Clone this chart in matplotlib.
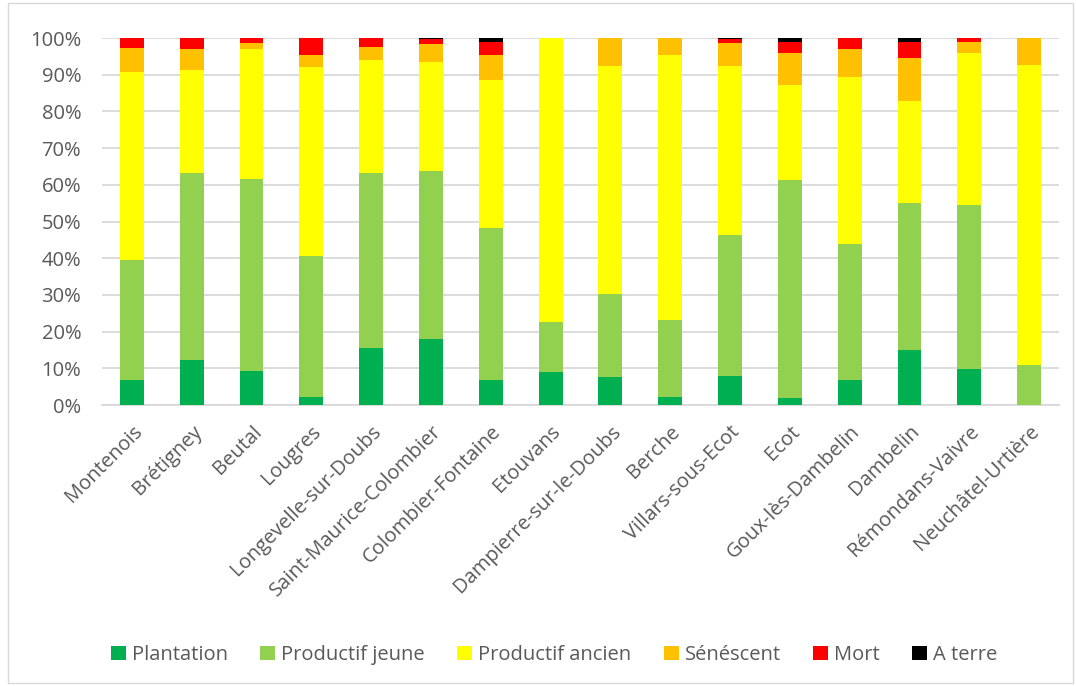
import numpy as np
import matplotlib.pyplot as plt
from matplotlib.patches import Rectangle
from matplotlib.ticker import PercentFormatter

plt.rcParams['font.family'] = ['Open Sans', 'DejaVu Sans']

communes = ["Montenois", "Brétigney", "Beutal", "Lougres", "Longevelle-sur-Doubs",
            "Saint-Maurice-Colombier", "Colombier-Fontaine", "Etouvans",
            "Dampierre-sur-le-Doubs", "Berche", "Villars-sous-Ecot", "Ecot",
            "Goux-lès-Dambelin", "Dambelin", "Rémondans-Vaivre", "Neuchâtel-Urtière"]

plantation = [6.8, 12.3, 9.3, 2.3, 15.6, 18.0, 6.8, 8.9, 7.5, 2.1, 8.0, 2.0, 6.8, 15.1, 9.9, 0.0]
productif_jeune = [32.7, 50.8, 52.3, 38.3, 47.6, 45.8, 41.4, 13.7, 22.7, 21.1, 38.3, 59.3, 37.1, 39.9, 44.6, 11.0]
productif_ancien = [51.2, 28.2, 35.3, 51.5, 30.8, 29.7, 40.4, 77.4, 62.2, 72.3, 46.1, 25.9, 45.5, 27.8, 41.4, 81.7]
senescent = [6.5, 5.7, 1.7, 3.2, 3.5, 4.9, 6.8, 0.0, 7.6, 4.5, 6.2, 8.8, 7.5, 11.7, 2.9, 7.3]
mort = [2.8, 3.0, 1.4, 4.7, 2.5, 1.3, 3.5, 0.0, 0.0, 0.0, 1.0, 3.0, 3.1, 4.5, 1.2, 0.0]
a_terre = [0.0, 0.0, 0.0, 0.0, 0.0, 0.3, 1.1, 0.0, 0.0, 0.0, 0.4, 1.0, 0.0, 1.0, 0.0, 0.0]

series = [
    ("Plantation", plantation, "#00B050"),
    ("Productif jeune", productif_jeune, "#92D050"),
    ("Productif ancien", productif_ancien, "#FFFF00"),
    ("Sénéscent", senescent, "#FFC000"),
    ("Mort", mort, "#FF0000"),
    ("A terre", a_terre, "#000000"),
]

fig = plt.figure(figsize=(10.76, 6.86), dpi=100)
ax = fig.add_axes([0.0948, 0.4096, 0.8894, 0.535])

x = np.arange(len(communes))
bottom = np.zeros(len(communes))
for name, vals, color in series:
    vals = np.array(vals)
    ax.bar(x, vals, 0.4, bottom=bottom, color=color, label=name, zorder=3)
    bottom += vals

ax.set_xlim(-0.5, len(communes) - 0.5)
ax.set_ylim(0, 100)
ax.set_yticks(np.arange(0, 101, 10))
ax.yaxis.set_major_formatter(PercentFormatter(decimals=0))
ax.grid(axis="y", color="#d9d9d9", linewidth=1.3, zorder=0)
for s in ["top", "right", "left"]:
    ax.spines[s].set_visible(False)
ax.spines["bottom"].set_color("#d9d9d9")
ax.spines["bottom"].set_linewidth(1.3)
ax.tick_params(length=0, labelcolor="#595959", labelsize=14.5)
ax.tick_params(axis="y", pad=15)
ax.tick_params(axis="x", pad=12)
ax.set_xticks(x)
ax.set_xticklabels(communes, rotation=45, ha="right", rotation_mode="anchor")

leg = fig.legend(loc="center", bbox_to_anchor=(0.515, 0.045), ncol=6, frameon=False,
                 fontsize=14.5, handlelength=0.75, handleheight=0.75, handletextpad=0.3,
                 columnspacing=1.6, labelcolor="#595959")

fig.patches.append(Rectangle((0.007, 0.004), 0.99, 0.992, transform=fig.transFigure,
                             fill=False, edgecolor="#d9d9d9", linewidth=1))

fig.savefig("out.png", dpi=100)
